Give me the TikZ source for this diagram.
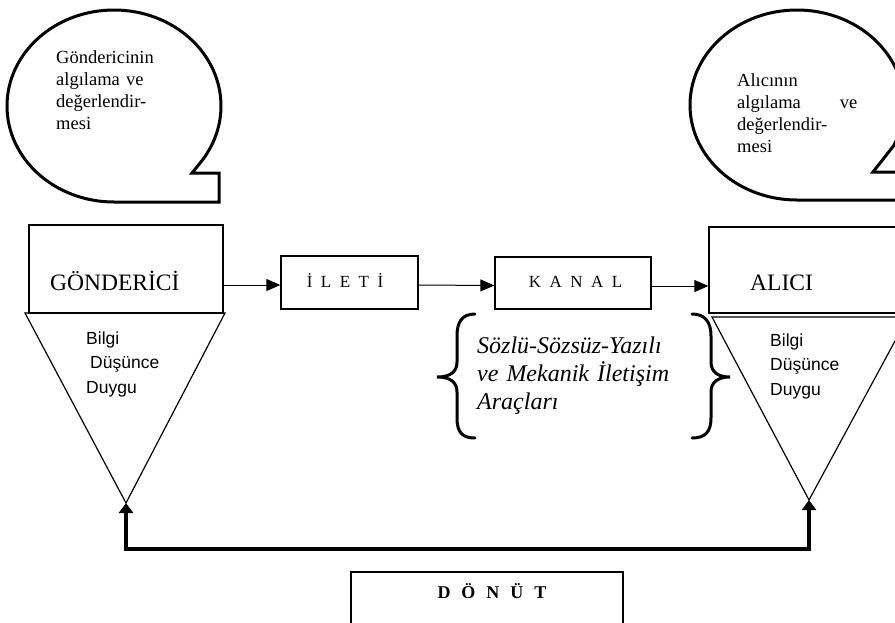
\documentclass[tikz,border=0pt]{standalone}
\usepackage{fontspec}
\setmainfont{Liberation Serif}
\newfontfamily\arialf{Liberation Sans}
\usetikzlibrary{arrows.meta}
\newcommand\lgap{\hspace{8.5pt}}
\newcommand\dgap{\hspace{11pt}}
\begin{document}
\begin{tikzpicture}[x=1pt,y=-1pt,
  box/.style={draw, line width=1.3pt, inner sep=0pt},
  bubble/.style={draw, line width=3pt, line join=miter},
  tri/.style={draw, line width=1.2pt, line join=miter},
  conn/.style={draw, line width=1pt, -{Triangle[length=14pt,width=12pt]}},
  fb/.style={draw, line width=3.2pt, line join=miter, {Triangle[length=10pt,width=14pt]}-{Triangle[length=10pt,width=14pt]}},
  brace/.style={draw, line width=3pt, line cap=round},
  txt/.style={inner sep=0pt, anchor=base west},
  bubtxt/.style={txt, align=left, text width=120pt, font=\fontsize{18.5}{22.3}\selectfont},
  sanstxt/.style={txt, align=left, text width=100pt, font=\arialf\fontsize{17.5}{24.5}\selectfont},
  bigtxt/.style={txt, font=\fontsize{23.5}{27}\selectfont},
  spacedtxt/.style={inner sep=0pt, anchor=base, font=\fontsize{17}{20}\selectfont}]
\useasboundingbox (0,0) rectangle (895,622);
\clip (0,0) rectangle (895,622);

% speech bubbles
\draw[bubble] (114,202) arc[start angle=270, end angle=-36.6, x radius=107pt, y radius=96pt]
  -- (192,173) -- (219,173) -- (219,202) -- cycle;
\draw[bubble] (797,200) arc[start angle=270, end angle=-25.4, x radius=107pt, y radius=95pt]
  -- (873,172) -- (910,172) -- (910,200) -- cycle;
\node[bubtxt] (lbt) at (56,63) {Göndericinin\\algılama ve\\değerlendir-\\mesi};
\node[bubtxt] (rbt) at (737,86) {Alıcının\\algılama\hfill ve\\değerlendir-\\mesi};

% boxes
\node[box, minimum width=194pt, minimum height=88pt] (gbox) at (126,269) {};
\node[box, minimum width=137pt, minimum height=53pt] (ileti) at (349.5,282.5) {};
\node[box, minimum width=156pt, minimum height=52pt] (kanal) at (573,283) {};
\node[box, minimum width=200pt, minimum height=86pt] (abox) at (809,270) {};
\node[box, minimum width=272pt, minimum height=78pt] (dbox) at (487,611) {};

\node[bigtxt] (gtxt) at (50,290) {GÖNDERİCİ};
\node[bigtxt] (atxt) at (750,290) {ALICI};
\node[spacedtxt] (itxt) at (345,287) {İ\lgap L\lgap E\lgap T\lgap İ};
\node[spacedtxt] (ktxt) at (575.5,287) {K\lgap A\lgap N\lgap A\lgap L};
\node[inner sep=0pt, anchor=base, font=\bfseries\fontsize{18}{21}\selectfont] (dtxt) at (492,598) {D\dgap Ö\dgap N\dgap Ü\dgap T};

% triangles
\coordinate (gtl) at (25,313);
\coordinate (gtr) at (225,313);
\coordinate (gap) at (126,503);
\coordinate (atl) at (712,317);
\coordinate (atr) at (908,317);
\coordinate (aap) at (809,500);
\draw[tri] (gtl) -- (gtr) -- (gap) -- cycle;
\draw[tri] (atl) -- (atr) -- (aap) -- cycle;
\node[sanstxt] (gst) at (86,344) {Bilgi\\\hspace*{4pt}Düşünce\\Duygu};
\node[sanstxt] (ast) at (770,346) {Bilgi\\Düşünce\\Duygu};

% connectors
\draw[conn] ([yshift=-2.5pt]ileti.west -| gbox.east) -- ([yshift=-2.5pt]ileti.west);
\draw[conn] ([yshift=-2.5pt]ileti.east) -- ([yshift=-2.5pt]kanal.west);
\draw[conn] ([yshift=-3pt]kanal.east) -- ([yshift=-3pt]kanal.east -| abox.west);

% feedback
\coordinate (fbl) at (126,549);
\coordinate (fbr) at (809,549);
\draw[fb] (gap) -- (fbl) -- (fbr) -- (aap);

% braces
\draw[brace] (475,314) .. controls (462,314) and (457,322) .. (457,336)
  -- (457,362) .. controls (457,372) and (450,377) .. (437,377)
  .. controls (450,377) and (457,382) .. (457,392)
  -- (457,418) .. controls (457,432) and (462,438) .. (475,438);
\draw[brace] (692,314) .. controls (705,314) and (711,322) .. (711,336)
  -- (711,362) .. controls (711,372) and (718,377) .. (730,377)
  .. controls (718,377) and (711,382) .. (711,392)
  -- (711,418) .. controls (711,432) and (705,438) .. (692,438);
\node[txt, align=left, text width=230pt, font=\itshape\fontsize{24}{28}\selectfont] (ctxt) at (477,353)
  {Sözlü-Sözsüz-Yazılı\\ve Mekanik İletişim\\Araçları};
\end{tikzpicture}
\end{document}
